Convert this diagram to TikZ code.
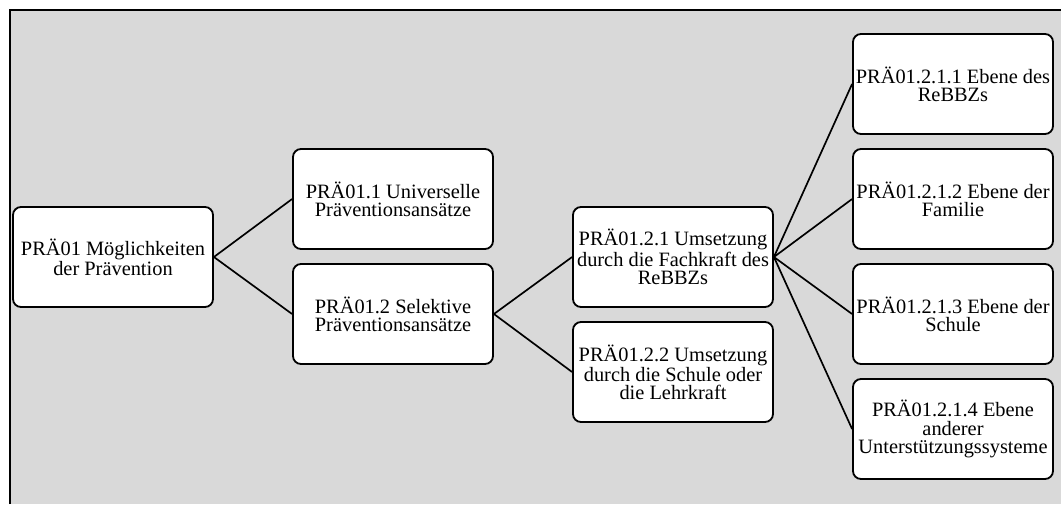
\documentclass[tikz,border=0pt]{standalone}
\usepackage{fontspec}
\setmainfont{Liberation Serif}
\usepackage{xcolor}
\usepackage{tikz}
\usetikzlibrary{positioning}
\definecolor{White}{gray}{1}
\definecolor{Black}{gray}{0}
\definecolor{Frame}{gray}{0.85}
\tikzset{
    mybox/.style={draw=Black, fill=White, rounded corners=0.2cm, line width=1.3pt,
        minimum width=5cm, minimum height=2.5cm, align=center, inner sep=1pt,
        font=\fontsize{14.5}{13}\selectfont},
    myline/.style={draw=Black, line width=1.2pt}
}

\begin{document}
\begin{tikzpicture}
  \useasboundingbox (0,0) rectangle (26.525,-12.6);
  \fill [White] (0,0) rectangle (26.525,-12.6);
  \fill [Frame] (0.25,-0.25) rectangle (26.525,-12.6);
  \draw [line width=1.3pt] (0.25,-12.6) -- (0.25,-0.25) -- (26.525,-0.25);

  \node[mybox] (root) at (2.825,-6.425) {PRÄ01 Möglichkeiten\\der Prävention};
  \node[mybox] (univ) at (9.825,-4.975) {PRÄ01.1 Universelle\\Präventionsansätze};
  \node[mybox] (sel) at (9.825,-7.85) {PRÄ01.2 Selektive\\Präventionsansätze};
  \node[mybox] (fach) at (16.825,-6.425) {PRÄ01.2.1 Umsetzung\\durch die Fachkraft des\\ReBBZs};
  \node[mybox] (lehr) at (16.825,-9.3) {PRÄ01.2.2 Umsetzung\\durch die Schule oder\\die Lehrkraft};
  \node[mybox] (rebbz) at (23.825,-2.1) {PRÄ01.2.1.1 Ebene des\\ReBBZs};
  \node[mybox] (fam) at (23.825,-4.975) {PRÄ01.2.1.2 Ebene der\\Familie};
  \node[mybox] (schule) at (23.825,-7.85) {PRÄ01.2.1.3 Ebene der\\Schule};
  \node[mybox] (andere) at (23.825,-10.725) {PRÄ01.2.1.4 Ebene\\anderer\\Unterstützungssysteme};

  \draw[myline] (root.east) -- (univ.west);
  \draw[myline] (root.east) -- (sel.west);
  \draw[myline] (sel.east) -- (fach.west);
  \draw[myline] (sel.east) -- (lehr.west);
  \foreach \n in {rebbz, fam, schule, andere}
    \draw[myline] (fach.east) -- (\n.west);
\end{tikzpicture}
\end{document}
